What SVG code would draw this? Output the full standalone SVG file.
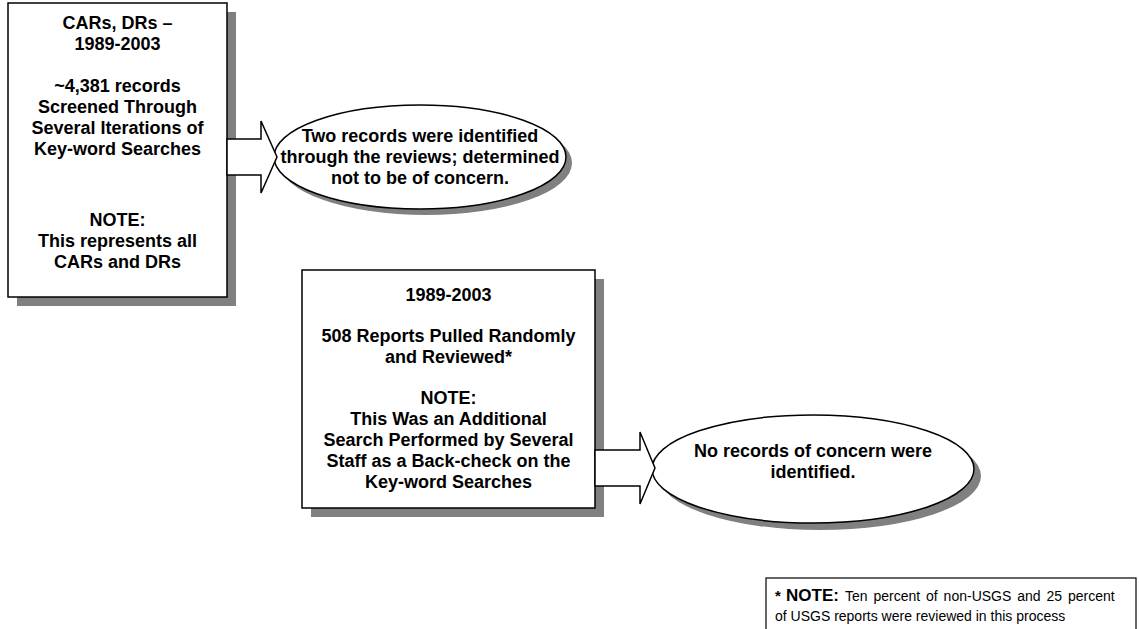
<svg xmlns="http://www.w3.org/2000/svg" width="1139" height="629" viewBox="0 0 1139 629">
  <style>
    .shape { fill: #ffffff; stroke: #000000; stroke-width: 1.5; }
    .shadow { fill: #808080; stroke: none; }
    .t { font-family: "Liberation Sans", Arial, sans-serif; font-size: 18px; font-weight: bold; fill: #000000; text-anchor: middle; }
    .fn { font-family: "Liberation Sans", Arial, sans-serif; font-size: 14px; fill: #000000; }
    .fnb { font-weight: bold; }
  </style>
  <rect width="1139" height="629" fill="#ffffff"/>

  <g id="box1">
    <rect class="shadow" x="17" y="12" width="219" height="294"/>
    <rect class="shape" x="8" y="3" width="219" height="294"/>
    <text class="t" x="117.5" y="29">CARs, DRs –</text>
    <text class="t" x="117.5" y="50">1989-2003</text>
    <text class="t" x="117.5" y="92">~4,381 records</text>
    <text class="t" x="117.5" y="113">Screened Through</text>
    <text class="t" x="117.5" y="134">Several Iterations of</text>
    <text class="t" x="117.5" y="155">Key-word Searches</text>
    <text class="t" x="117.5" y="226">NOTE:</text>
    <text class="t" x="117.5" y="247">This represents all</text>
    <text class="t" x="117.5" y="268">CARs and DRs</text>
  </g>

  <g id="ellipse1">
    <ellipse class="shadow" cx="426" cy="163" rx="146" ry="52"/>
    <ellipse class="shape" cx="420" cy="157" rx="146" ry="52"/>
    <text class="t" x="420" y="142">Two records were identified</text>
    <text class="t" x="420" y="163">through the reviews; determined</text>
    <text class="t" x="420" y="184">not to be of concern.</text>
  </g>

  <g id="box2">
    <rect class="shadow" x="311" y="279" width="293" height="238"/>
    <rect class="shape" x="302" y="270" width="293" height="238"/>
    <text class="t" x="448.5" y="301">1989-2003</text>
    <text class="t" x="448.5" y="342">508 Reports Pulled Randomly</text>
    <text class="t" x="448.5" y="363">and Reviewed*</text>
    <text class="t" x="448.5" y="404">NOTE:</text>
    <text class="t" x="448.5" y="425">This Was an Additional</text>
    <text class="t" x="448.5" y="446">Search Performed by Several</text>
    <text class="t" x="448.5" y="467">Staff as a Back-check on the</text>
    <text class="t" x="448.5" y="488">Key-word Searches</text>
  </g>

  <g id="ellipse2">
    <ellipse class="shadow" cx="820" cy="476" rx="161" ry="54"/>
    <ellipse class="shape" cx="813" cy="469" rx="161" ry="54"/>
    <text class="t" x="813" y="457">No records of concern were</text>
    <text class="t" x="813" y="478">identified.</text>
  </g>

  <g id="connectors">
    <polygon class="shape" points="227,139 261,139 261,121 277,157 261,193 261,175 227,175"/>
    <polygon class="shape" points="595,450 640,450 640,432 655,468 640,504 640,486 595,486"/>
  </g>

  <g id="footnote">
    <rect x="766" y="578" width="370" height="60" fill="#ffffff" stroke="#000000" stroke-width="1.2"/>
    <text class="fn" x="775" y="601"><tspan class="fnb" font-size="15">*</tspan><tspan class="fnb" font-size="17" x="786">NOTE:</tspan><tspan x="845" word-spacing="2">Ten percent of non-USGS and 25 percent</tspan></text>
    <text class="fn" x="775" y="621">of USGS reports were reviewed in this process</text>
  </g>
</svg>
